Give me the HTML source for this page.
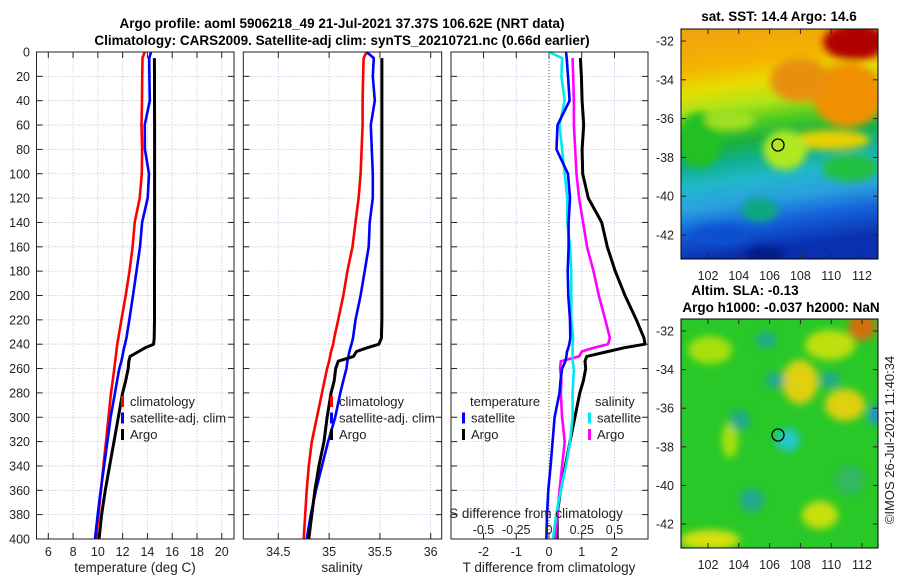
<!DOCTYPE html>
<html><head><meta charset="utf-8"><style>
html,body{margin:0;padding:0;background:#fff;}
svg{display:block;font-family:"Liberation Sans","DejaVu Sans",sans-serif;}
</style></head><body>
<svg id="fig" width="900" height="580" viewBox="0 0 900 580" xmlns="http://www.w3.org/2000/svg">
<defs>
<linearGradient id="sstg" x1="0" y1="0" x2="0.12" y2="1">
<stop offset="0" stop-color="#f0a010"/><stop offset="0.18" stop-color="#f4b400"/>
<stop offset="0.27" stop-color="#e8dc00"/><stop offset="0.36" stop-color="#b0e418"/>
<stop offset="0.44" stop-color="#50cc20"/><stop offset="0.52" stop-color="#18b040"/>
<stop offset="0.60" stop-color="#10b090"/><stop offset="0.68" stop-color="#20b8c8"/>
<stop offset="0.78" stop-color="#2aa0e0"/><stop offset="0.88" stop-color="#1460d8"/><stop offset="1" stop-color="#0a30b0"/>
</linearGradient>
<filter id="blur" x="-50%" y="-50%" width="200%" height="200%"><feGaussianBlur stdDeviation="4"/></filter>
<clipPath id="c1"><rect x="681" y="29" width="197" height="230"/></clipPath>
<clipPath id="c2"><rect x="681" y="319" width="197" height="229"/></clipPath>
</defs>
<g id="titles">
<text x="342" y="28" text-anchor="middle" font-size="13.5" font-weight="bold">Argo profile: aoml 5906218_49 21-Jul-2021 37.37S 106.62E (NRT data)</text>
<text x="342" y="45" text-anchor="middle" font-size="13.5" font-weight="bold">Climatology: CARS2009. Satellite-adj clim: synTS_20210721.nc (0.66d earlier)</text>
</g>
<g id="panels"></g>
<g id="maps">
<g clip-path="url(#c1)">
<rect x="681" y="29" width="197" height="230" fill="url(#sstg)"/>
<g filter="url(#blur)">
<ellipse cx="855" cy="42" rx="32" ry="18" fill="#b00000"/>
<ellipse cx="848" cy="95" rx="36" ry="32" fill="#f09000"/>
<ellipse cx="800" cy="80" rx="30" ry="22" fill="#e89010"/>
<ellipse cx="830" cy="140" rx="40" ry="10" fill="#e8d000"/>
<ellipse cx="700" cy="140" rx="22" ry="28" fill="#20c020"/>
<ellipse cx="730" cy="120" rx="25" ry="10" fill="#a0e020"/>
<ellipse cx="785" cy="150" rx="22" ry="20" fill="#b0e820"/>
<ellipse cx="850" cy="168" rx="28" ry="14" fill="#20c040"/>
<ellipse cx="760" cy="210" rx="18" ry="12" fill="#10a880"/>
<ellipse cx="720" cy="235" rx="30" ry="10" fill="#1050d0"/>
<ellipse cx="765" cy="254" rx="20" ry="8" fill="#061c88"/>
</g>
</g>
<g clip-path="url(#c2)">
<rect x="681" y="319" width="197" height="229" fill="#28c828"/>
<g filter="url(#blur)">
<ellipse cx="862" cy="327" rx="14" ry="14" fill="#d07010"/>
<ellipse cx="830" cy="345" rx="25" ry="15" fill="#c0e010"/>
<ellipse cx="800" cy="382" rx="18" ry="22" fill="#e0d010"/>
<ellipse cx="845" cy="405" rx="20" ry="16" fill="#e0d010"/>
<ellipse cx="710" cy="350" rx="22" ry="14" fill="#a8e010"/>
<ellipse cx="730" cy="440" rx="8" ry="18" fill="#a8e010"/>
<ellipse cx="788" cy="440" rx="12" ry="12" fill="#20c8c8"/>
<ellipse cx="875" cy="415" rx="6" ry="10" fill="#2090e0"/>
<ellipse cx="752" cy="500" rx="12" ry="12" fill="#20a890"/>
<ellipse cx="775" cy="380" rx="10" ry="8" fill="#20a890"/>
<ellipse cx="766" cy="340" rx="10" ry="8" fill="#20a890"/>
<ellipse cx="830" cy="380" rx="10" ry="8" fill="#20a890"/>
<ellipse cx="820" cy="515" rx="18" ry="14" fill="#c8e010"/>
<ellipse cx="710" cy="540" rx="30" ry="10" fill="#d8e010"/>
<ellipse cx="740" cy="420" rx="10" ry="10" fill="#20a890"/>
<ellipse cx="850" cy="480" rx="15" ry="15" fill="#30b860"/>
</g>
</g>
<rect x="681" y="29" width="197" height="230" fill="none" stroke="#000" stroke-width="1"/>
<rect x="681" y="319" width="197" height="229" fill="none" stroke="#000" stroke-width="1"/>
<circle cx="778" cy="145" r="6" fill="none" stroke="#000" stroke-width="1.3"/>
<circle cx="778" cy="435" r="6" fill="none" stroke="#000" stroke-width="1.3"/>
<text x="779" y="21" text-anchor="middle" font-size="13.5" font-weight="bold">sat. SST: 14.4 Argo: 14.6</text>
<text x="745" y="295" text-anchor="middle" font-size="13.5" font-weight="bold">Altim. SLA: -0.13</text>
<text x="781" y="312" text-anchor="middle" font-size="13.5" font-weight="bold">Argo h1000: -0.037 h2000: NaN</text>
<text transform="translate(894,440) rotate(-90)" text-anchor="middle" font-size="13" fill="#222">©IMOS 26-Jul-2021 11:40:34</text>
</g>
</svg>
<script>
const depths = [0,5,20,40,60,80,100,120,140,160,180,200,220,235,240,243,246,250,254,260,270,280,300,320,340,360,380,400];
const tempClim = [13.78,13.6,13.58,13.56,13.52,13.57,13.55,13.38,12.97,12.8,12.55,12.25,11.9,11.65,11.57,11.53,11.5,11.45,11.4,11.33,11.2,11.06,10.86,10.66,10.45,10.25,10.05,9.85];
const tempSat = [14.3,14.14,14.16,14.19,13.78,13.8,14.13,14.02,13.57,13.4,13.12,12.84,12.54,12.3,12.19,12.12,12.05,11.98,11.9,11.73,11.55,11.38,11.03,10.77,10.5,10.23,9.99,9.77];
const tempArgo = [null,14.56,14.57,14.57,14.58,14.58,14.58,14.58,14.58,14.58,14.57,14.57,14.57,14.55,14.5,13.8,13.3,12.6,12.5,12.45,12.25,12.0,11.65,11.3,10.95,10.6,10.3,10.1];
const salClim = [35.37,35.34,35.335,35.33,35.33,35.32,35.31,35.29,35.26,35.23,35.18,35.14,35.09,35.05,35.04,35.03,35.02,35.01,35.0,34.98,34.955,34.93,34.88,34.83,34.8,34.78,34.765,34.75];
const salSat = [35.37,35.44,35.43,35.45,35.41,35.42,35.43,35.43,35.40,35.39,35.35,35.31,35.26,35.235,35.22,35.21,35.2,35.19,35.18,35.17,35.14,35.11,35.06,34.99,34.93,34.87,34.82,34.78];
const salArgo = [null,35.52,35.52,35.52,35.52,35.52,35.52,35.52,35.52,35.52,35.52,35.52,35.52,35.515,35.49,35.37,35.27,35.24,35.09,35.065,35.05,35.02,34.98,34.95,34.9,34.86,34.83,34.8];
const depthTicks = [0,20,40,60,80,100,120,140,160,180,200,220,240,260,280,300,320,340,360,380,400];
const tempTicks = [6,8,10,12,14,16,18,20];
const salTicks = [34.5,35,35.5,36];
const tdiffTicks = [-2,-1,0,1,2];
const sdiffTicks = [-0.5,-0.25,0,0.25,0.5];
const latTicks = [-32,-34,-36,-38,-40,-42];
const lonTicks = [102,104,106,108,110,112];

const NS='http://www.w3.org/2000/svg';
const root=document.getElementById('panels');
function mk(tag,attrs,parent){const e=document.createElementNS(NS,tag);for(const k in attrs)e.setAttribute(k,attrs[k]);(parent||root).appendChild(e);return e;}
function txt(x,y,s,size,anchor,parent){const t=mk('text',{x:x,y:y,'font-size':size,'text-anchor':anchor||'middle',fill:'#222'},parent);t.textContent=s;return t;}
const Y0=52,Y1=539;
function yD(d){return Y0+(d)*(Y1-Y0)/400;}
function xT(t){return 48.3+(t-6)*12.39;}
function xS(s){return 278.3+(s-34.5)*101.6;}
function xDT(t){return 549+t*32.75;}
function xDS(s){return 549+s*131;}
const panels=[{x0:36.5,x1:234},{x0:243.3,x1:441.7},{x0:451,x1:648}];

panels.forEach((p,i)=>{
  const g=mk('g',{});
  
  
  depthTicks.forEach(d=>{
    const l=mk('line',{x1:p.x0,x2:p.x1,y1:yD(d),y2:yD(d),stroke:'#c4c8e4','stroke-width':0.8,'stroke-dasharray':'1.5,1.5'},g);
    
    
    mk('line',{x1:p.x0,x2:p.x0+6,y1:yD(d),y2:yD(d),stroke:'#222','stroke-width':1},g);
    mk('line',{x1:p.x1-6,x2:p.x1,y1:yD(d),y2:yD(d),stroke:'#222','stroke-width':1},g);
  });
  p.g=g;
});
depthTicks.forEach(d=>{
  const t=txt(30,yD(d)+4.5,String(d),12.5,'end');
  
  
});
function vgrid(g,x,col){mk('line',{x1:x,x2:x,y1:Y0,y2:Y1,stroke:col,'stroke-width':0.8,'stroke-dasharray':'1.5,1.5'},g);mk('line',{x1:x,x2:x,y1:Y1,y2:Y1-6,stroke:'#222'},g);mk('line',{x1:x,x2:x,y1:Y0,y2:Y0+6,stroke:'#222'},g);}
tempTicks.forEach(t=>{vgrid(panels[0].g,xT(t),'#dcc4d0');const e=txt(xT(t),556,String(t),12.5);});
salTicks.forEach(s=>{vgrid(panels[1].g,xS(s),'#c4c8e4');const e=txt(xS(s),556,String(s),12.5);});
tdiffTicks.forEach(t=>{vgrid(panels[2].g,xDT(t),'#c4c8e4');const e=txt(xDT(t),556,String(t),12.5);});
sdiffTicks.forEach(s=>{const e=txt(xDS(s),534,String(s),12.5);});
mk('line',{x1:549,x2:549,y1:Y0,y2:Y1,stroke:'#556644','stroke-width':1,'stroke-dasharray':'1,2'},panels[2].g);

function series(vals,xf,color,name,g,w){
  let d='';let started=false;
  vals.forEach((v,i)=>{if(v===null||v===undefined)return;d+=(started?'L':'M')+xf(v).toFixed(1)+','+yD(depths[i]).toFixed(1);started=true;});
  const p=mk('path',{d:d,fill:'none',stroke:color,'stroke-width':w||2.6,'stroke-linejoin':'round'},g);
  
  
}
series(tempClim,xT,'#ff0000','temp-climatology-line',panels[0].g);
series(tempSat,xT,'#0000ff','temp-satellite-line',panels[0].g);
series(tempArgo,xT,'#000','temp-argo-line',panels[0].g,3);
series(salClim,xS,'#ff0000','sal-climatology-line',panels[1].g);
series(salSat,xS,'#0000ff','sal-satellite-line',panels[1].g);
series(salArgo,xS,'#000','sal-argo-line',panels[1].g,3);
const dTs=tempSat.map((v,i)=>v-tempClim[i]);
const dTa=tempArgo.map((v,i)=>v===null?null:v-tempClim[i]);
const dSs=salSat.map((v,i)=>v-salClim[i]);
const dSa=salArgo.map((v,i)=>v===null?null:v-salClim[i]);
series(dTa,xDT,'#000','t-diff-argo-line',panels[2].g,3);
series(dSa,xDS,'#ff00ff','s-diff-argo-line',panels[2].g);
series(dSs,xDS,'#00e8f0','s-diff-satellite-line',panels[2].g);
series(dTs,xDT,'#0000ff','t-diff-satellite-line',panels[2].g);

panels.forEach(p=>{mk('rect',{x:p.x0,y:Y0,width:p.x1-p.x0,height:Y1-Y0,fill:'none',stroke:'#222','stroke-width':1},p.g);});

function legend(x,y,items,g){
  items.forEach((it,i)=>{
    const b=mk('rect',{x:x,y:y+i*16.5-10,width:3,height:11,fill:it[1]},g);
    
    
    const t=txt(x+9,y+i*16.5,it[0],13,'start',g);
    
    
  });
}
legend(121,406,[['climatology','#ff0000'],['satellite-adj. clim','#0000ff'],['Argo','#000']],panels[0].g);
legend(330,406,[['climatology','#ff0000'],['satellite-adj. clim','#0000ff'],['Argo','#000']],panels[1].g);
let t1=txt(470,406,'temperature',13,'start',panels[2].g);
legend(462,422.5,[['satellite','#0000ff'],['Argo','#000']],panels[2].g);
let t2=txt(595,406,'salinity',13,'start',panels[2].g);
legend(588,422.5,[['satellite','#00e8f0'],['Argo','#ff00ff']],panels[2].g);

let a1=txt(135,572,'temperature (deg C)',13.5);
let a2=txt(342,572,'salinity',13.5);
let a3=txt(549,572,'T difference from climatology',13.5);
let a4=txt(536,518,'S difference from climatology',13.5);

const mg=document.getElementById('maps');
function mapAxes(yTop,yBot,latY0,latStep,lonY){
  latTicks.forEach(l=>{const y=latY0+(-32-l)*latStep;
    mk('line',{x1:681,x2:686,y1:y,y2:y,stroke:'#222'},mg);mk('line',{x1:873,x2:878,y1:y,y2:y,stroke:'#222'},mg);
    const e=txt(674,y+4.5,String(l),12.5,'end',mg);});
  lonTicks.forEach(l=>{const x=708+(l-102)*15.4;
    mk('line',{x1:x,x2:x,y1:yBot,y2:yBot-5,stroke:'#222'},mg);mk('line',{x1:x,x2:x,y1:yTop,y2:yTop+5,stroke:'#222'},mg);
    const e=txt(x,lonY,String(l),12.5,'middle',mg);});
}
mapAxes(29,259,41,19.4,280);
mapAxes(319,548,331,19.3,569);
</script>
</body></html>
